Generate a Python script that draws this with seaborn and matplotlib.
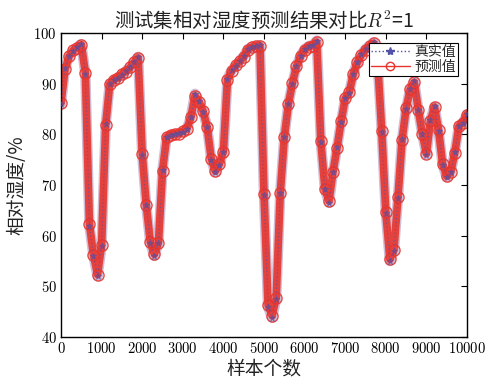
import matplotlib
matplotlib.use("Agg")
import matplotlib.pyplot as plt
import seaborn as sns
import pandas as pd
import numpy as np
from matplotlib.lines import Line2D

# ---- data (every 100 samples) ----
sample_idx = list(range(0, 10001, 100))
true_vals = [
    86.0, 93.0, 95.5, 96.5, 97.2, 97.8, 92.0, 62.0, 56.0, 52.0,
    58.0, 82.0, 90.0, 90.7, 91.2, 91.8, 92.5, 93.3, 94.3, 95.3,
    76.0, 66.0, 58.5, 56.0, 58.5, 73.0, 79.5, 79.8, 80.0, 80.2,
    80.5, 81.0, 83.5, 88.0, 86.5, 84.5, 81.5, 75.0, 72.5, 74.0,
    76.5, 91.0, 92.6, 93.5, 94.5, 95.4, 96.8, 97.3, 97.5, 97.6,
    68.0, 46.0, 43.8, 47.5, 68.5, 79.5, 86.0, 90.0, 93.5, 95.5,
    96.8, 97.4, 97.6, 98.5, 78.5, 69.2, 66.5, 72.5, 77.5, 82.5,
    87.2, 88.2, 92.0, 94.3, 95.8, 96.8, 97.5, 98.2, 94.0, 80.5,
    64.5, 55.0, 57.0, 67.5, 79.0, 85.0, 89.0, 90.5, 84.8, 80.0,
    76.0, 82.8, 85.5, 80.7, 74.0, 71.5, 72.5, 76.5, 81.7, 82.2,
    84.0,
]
pred_vals = [
    86.2, 92.8, 95.4, 96.6, 97.1, 97.7, 92.2, 62.3, 56.2, 52.3,
    58.2, 81.8, 89.9, 90.8, 91.1, 91.9, 92.4, 93.2, 94.2, 95.1,
    76.2, 66.1, 58.7, 56.3, 58.6, 72.8, 79.4, 79.9, 80.1, 80.1,
    80.6, 81.1, 83.4, 87.6, 86.4, 84.6, 81.4, 75.2, 72.7, 74.1,
    76.6, 90.8, 92.5, 93.6, 94.4, 95.3, 96.7, 97.2, 97.4, 97.5,
    68.2, 46.3, 44.2, 47.7, 68.4, 79.4, 85.9, 90.1, 93.4, 95.4,
    96.7, 97.3, 97.5, 98.2, 78.6, 69.3, 66.8, 72.6, 77.4, 82.6,
    87.1, 88.3, 91.9, 94.2, 95.7, 96.7, 97.4, 98.0, 94.1, 80.6,
    64.7, 55.3, 57.2, 67.6, 78.9, 85.1, 88.9, 90.3, 84.9, 80.1,
    76.2, 82.7, 85.4, 80.8, 74.1, 71.7, 72.6, 76.4, 81.6, 82.3,
    83.9,
]
legend_labels = ["真实值", "预测值"]
title_text = "测试集相对湿度预测结果对比$R^2$=1"
xlabel_text = "样本个数"
ylabel_text = "相对湿度/%"
x_ticks = list(range(0, 10001, 1000))
y_ticks = list(range(40, 101, 10))

# ---- style ----
sns.set_theme(style="white")
plt.rcParams["font.family"] = ["cmr10", "DejaVu Serif"]
plt.rcParams["mathtext.fontset"] = "cm"
plt.rcParams["axes.formatter.use_mathtext"] = True
plt.rcParams["axes.unicode_minus"] = False
cjk = ["Noto Sans CJK SC", "DejaVu Sans"]

df = pd.DataFrame({"sample": sample_idx, "true": true_vals, "pred": pred_vals})

fig = plt.figure(figsize=(4.9, 3.88), dpi=100)
ax = fig.add_axes([61 / 490, 1 - 337 / 388, (467 - 61) / 490, (337 - 33) / 388])

blue = "#5050a8"
red = "#e8342c"

# blue band underneath (gives the purple fringe)
sns.lineplot(data=df, x="sample", y="true", ax=ax, color="#8a5a9a", linestyle="-",
             linewidth=7.5, alpha=0.4, zorder=1, legend=False)
sns.lineplot(data=df, x="sample", y="pred", ax=ax, color=red, linestyle="-",
             linewidth=5.5, marker="o", markersize=8, markeredgecolor=red,
             markerfacecolor="none", markeredgewidth=1.0, alpha=0.9,
             zorder=2, legend=False)
sns.lineplot(data=df, x="sample", y="true", ax=ax, color=blue, linestyle=":",
             linewidth=1.0, marker="*", markersize=5, markeredgecolor=blue,
             markerfacecolor=blue, alpha=0.55, zorder=3, legend=False)

ax.set_xlim(0, 10000)
ax.set_ylim(40, 100)
ax.set_xticks(x_ticks)
ax.set_yticks(y_ticks)
ax.tick_params(direction="in", length=4, width=0.8, top=True, right=True,
               labelsize=10.5, pad=3, colors="black")
for s in ax.spines.values():
    s.set_color("black")
    s.set_linewidth(1.0)

ax.set_title(title_text, fontfamily=cjk, fontsize=14, pad=4, color="#222222")
ax.set_xlabel(xlabel_text, fontfamily=cjk, fontsize=13.5, labelpad=2, color="#222222")
ax.set_ylabel(ylabel_text, fontfamily=cjk, fontsize=13.5, labelpad=4, color="#222222")

h1 = Line2D([], [], color=blue, linestyle=":", linewidth=1.0, marker="*",
            markersize=6, markerfacecolor=blue, markeredgecolor=blue)
h2 = Line2D([], [], color=red, linestyle="-", linewidth=1.0, marker="o",
            markersize=6, markerfacecolor="none", markeredgecolor=red)
leg = ax.legend([h1, h2], legend_labels, loc="upper right",
                bbox_to_anchor=(0.977, 0.968), prop={"family": cjk, "size": 10},
                frameon=True, fancybox=False, edgecolor="black", framealpha=1,
                borderpad=0.15, labelspacing=0.05, handlelength=2.8,
                handletextpad=0.3, borderaxespad=0)
leg.get_frame().set_linewidth(0.8)
leg.set_zorder(5)

fig.savefig("out.png", dpi=100)
